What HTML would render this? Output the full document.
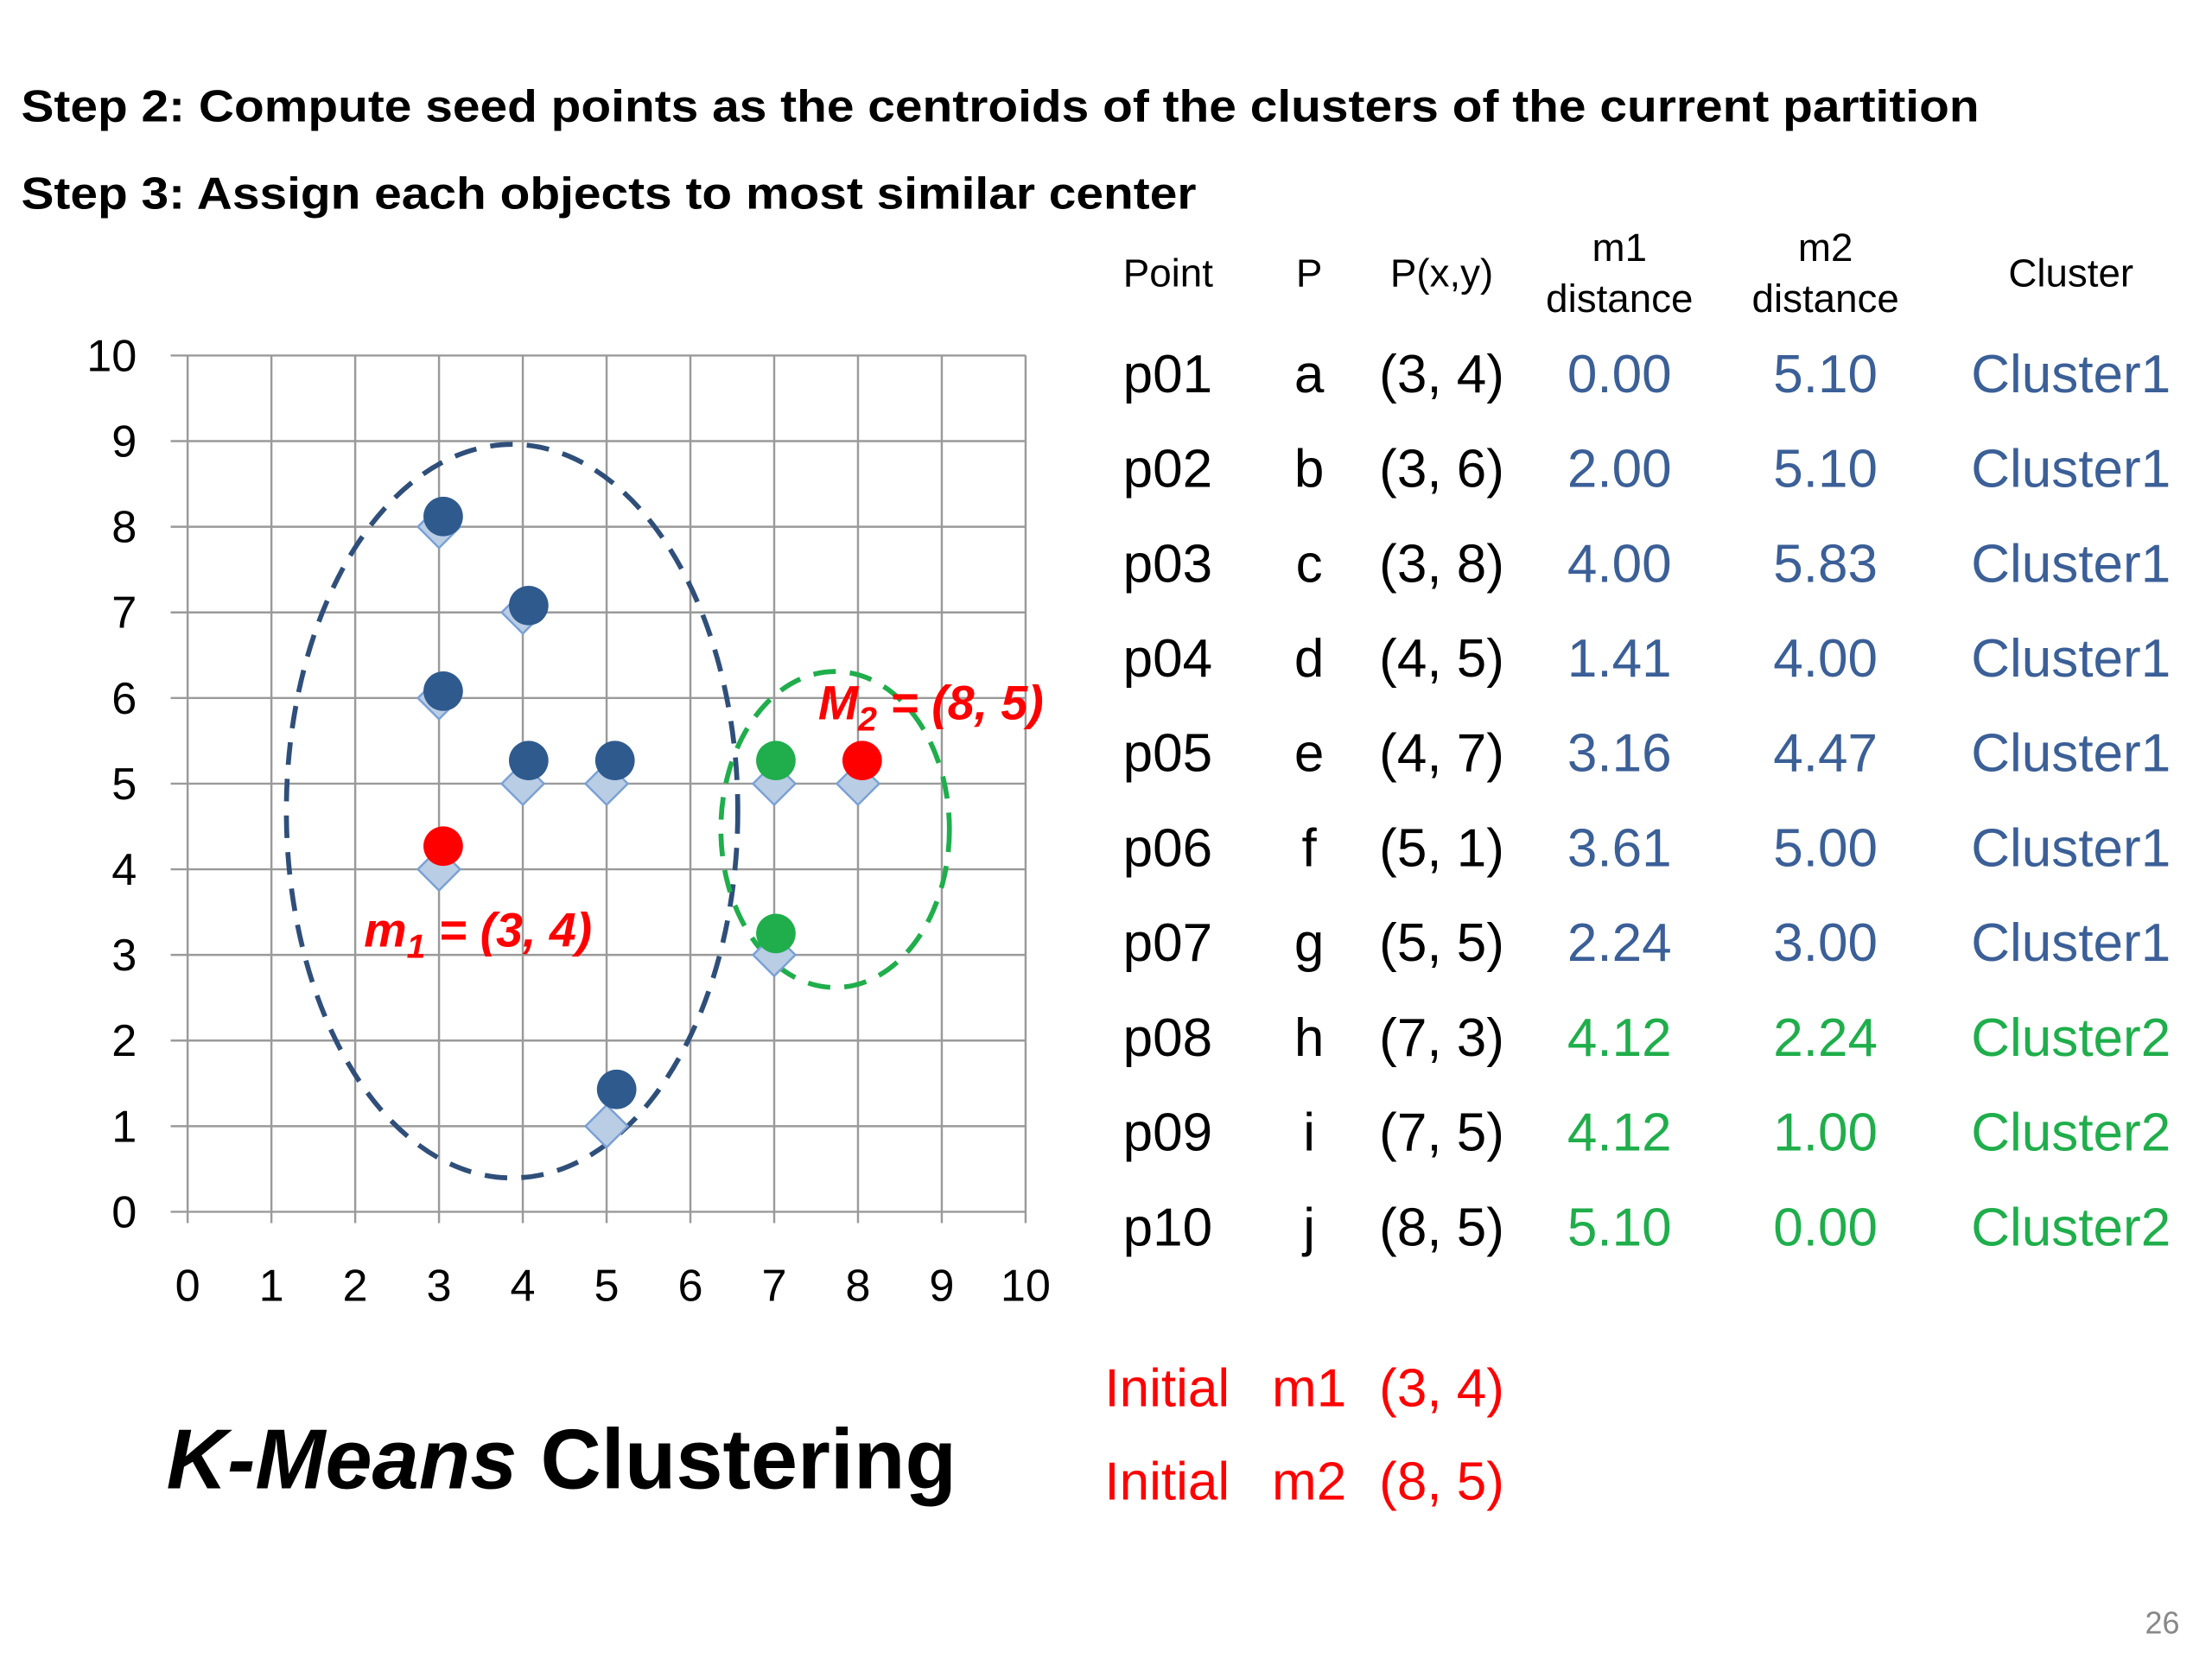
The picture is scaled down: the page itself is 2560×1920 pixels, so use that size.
<!DOCTYPE html>
<html><head><meta charset="utf-8"><style>
html,body{margin:0;padding:0;background:#fff;}
svg{display:block;font-family:"Liberation Sans",sans-serif;}
</style></head><body>
<svg id="root" width="2560" height="1920" viewBox="0 0 1568 1176" xmlns="http://www.w3.org/2000/svg">
<text x="15" y="86" font-size="32" font-weight="bold" textLength="1388" lengthAdjust="spacingAndGlyphs">Step 2: Compute seed points as the centroids of the clusters of the current partition</text>
<text x="15" y="148" font-size="32" font-weight="bold" textLength="833" lengthAdjust="spacingAndGlyphs">Step 3: Assign each objects to most similar center</text>
<g id="chart"></g>
<g id="table"></g>
<text x="118" y="1055" font-size="60" font-weight="bold" textLength="560" lengthAdjust="spacingAndGlyphs"><tspan font-style="italic">K-Means</tspan> Clustering</text>
<text x="1545" y="1158" font-size="22" fill="#888" text-anchor="end">26</text>
</svg>
<script>
const NS="http://www.w3.org/2000/svg";
const xTicks=[0,1,2,3,4,5,6,7,8,9,10];
const yTicks=[0,1,2,3,4,5,6,7,8,9,10];
const pointX=[3,3,3,4,4,5,5,7,7,8];
const pointY=[4,6,8,5,7,1,5,3,5,5];
const c1X=[3.05,4.07,3.05,4.07,5.1,5.12];
const c1Y=[8.12,7.08,6.08,5.27,5.27,1.43];
const c2X=[7.02,7.02];
const c2Y=[5.27,3.25];
const centerX=[3.05,8.05];
const centerY=[4.27,5.27];
const x0=133,x1=727,y0=859,y1=252;
function sx(v){return x0+(x1-x0)*v/10;}
function sy(v){return y0-(y0-y1)*v/10;}
function mk(tag,attrs,parent){const e=document.createElementNS(NS,tag);for(const k in attrs)e.setAttribute(k,attrs[k]);parent.appendChild(e);return e;}
const g=document.getElementById('chart');
xTicks.forEach(t=>{const l=mk('line',{x1:sx(t),x2:sx(t),y1:sy(10),y2:y0+8,stroke:'#9a9a9a','stroke-width':1.5},g);


const tx=mk('text',{x:sx(t),y:922,'font-size':32,'text-anchor':'middle'},g);tx.textContent=t;

});
yTicks.forEach(t=>{const l=mk('line',{x1:x0-12,x2:sx(10),y1:sy(t),y2:sy(t),stroke:'#9a9a9a','stroke-width':1.5},g);


const tx=mk('text',{x:97,y:sy(t)+11,'font-size':32,'text-anchor':'end'},g);tx.textContent=t;

});
const e1=mk('ellipse',{cx:363,cy:575,rx:160,ry:260,fill:'none',stroke:'#2f4f7a','stroke-width':3.5,'stroke-dasharray':'16 10'},g);


const e2=mk('ellipse',{cx:592,cy:588,rx:81,ry:112,fill:'none',stroke:'#1fae4b','stroke-width':3.5,'stroke-dasharray':'16 10'},g);


pointX.forEach((v,i)=>{const cx=sx(v),cy=sy(pointY[i]),h=15;
const d=mk('polygon',{points:`${cx},${cy-h} ${cx+h},${cy} ${cx},${cy+h} ${cx-h},${cy}`,fill:'#b9cde5',stroke:'#7aa0d4','stroke-width':1.5},g);

});
function circles(xs,ys,col,name){xs.forEach((v,i)=>{const c=mk('circle',{cx:sx(v),cy:sy(ys[i]),r:14,fill:col},g);

});}
circles(c1X,c1Y,'#2f5a8e','cluster1-point');
circles(c2X,c2Y,'#1fae4b','cluster2-point');
circles(centerX,centerY,'#ff0000','centroid-point');
const m1=mk('text',{x:258,y:671,'font-size':34,'font-weight':'bold','font-style':'italic',fill:'#ff0000'},g);
m1.innerHTML='m<tspan font-size="24" dy="8">1</tspan><tspan dy="-8"> = (3, 4)</tspan>';


const m2=mk('text',{x:580,y:510,'font-size':34,'font-weight':'bold','font-style':'italic',fill:'#ff0000'},g);
m2.innerHTML='M<tspan font-size="24" dy="8">2</tspan><tspan dy="-8"> = (8, 5)</tspan>';



const T=document.getElementById('table');
const colX=[828,928,1022,1148,1294,1468];
function txt(s,x,y,size,col,anchor,name){const t=mk('text',{x:x,y:y,'font-size':size,fill:col,'text-anchor':anchor},T);t.textContent=s;

return t;}
txt('Point',colX[0],203,28,'#000','middle','header-point');
txt('P',colX[1],203,28,'#000','middle','header-p');
txt('P(x,y)',colX[2],203,28,'#000','middle','header-pxy');
txt('m1',colX[3],185,28,'#000','middle','header-m1');
txt('distance',colX[3],221,28,'#000','middle','header-m1-distance');
txt('m2',colX[4],185,28,'#000','middle','header-m2');
txt('distance',colX[4],221,28,'#000','middle','header-m2-distance');
txt('Cluster',colX[5],203,28,'#000','middle','header-cluster');
const names=['p01','p02','p03','p04','p05','p06','p07','p08','p09','p10'];
const letters=['a','b','c','d','e','f','g','h','i','j'];
const d1=['0.00','2.00','4.00','1.41','3.16','3.61','2.24','4.12','4.12','5.10'];
const d2=['5.10','5.10','5.83','4.00','4.47','5.00','3.00','2.24','1.00','0.00'];
const clusters=[1,1,1,1,1,1,1,2,2,2];
names.forEach((n,i)=>{const y=278+i*67.2;const col=clusters[i]==1?'#3b5f97':'#1fae4b';
txt(n,796,y,38,'#000','start','row-point');
txt(letters[i],colX[1],y,38,'#000','middle','row-letter');
txt('('+pointX[i]+', '+pointY[i]+')',colX[2],y,38,'#000','middle','row-coords');
txt(d1[i],colX[3],y,38,col,'middle','row-m1-distance');
txt(d2[i],colX[4],y,38,col,'middle','row-m2-distance');
txt('Cluster'+clusters[i],colX[5],y,38,col,'middle','row-cluster');});
txt('Initial',783,997,38,'#ff0000','start','initial-m1-label');
txt('m1',colX[1],997,38,'#ff0000','middle','initial-m1-name');
txt('(3, 4)',colX[2],997,38,'#ff0000','middle','initial-m1-coords');
txt('Initial',783,1063,38,'#ff0000','start','initial-m2-label');
txt('m2',colX[1],1063,38,'#ff0000','middle','initial-m2-name');
txt('(8, 5)',colX[2],1063,38,'#ff0000','middle','initial-m2-coords');
</script>
</body></html>
